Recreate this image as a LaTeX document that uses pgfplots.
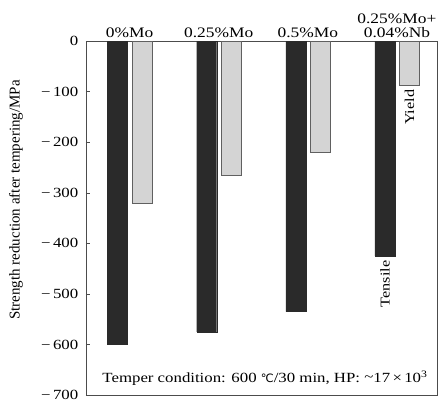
\documentclass[border=0pt]{standalone}
\usepackage{fontspec}
\setmainfont{Liberation Serif}[FakeStretch=1.2]
\newfontfamily\plainserif{Liberation Serif}
\newfontfamily\symfont{DejaVu Sans}
\usepackage{pgfplots}
\pgfplotsset{compat=1.18}
\definecolor{darkbar}{HTML}{2A2A2A}
\definecolor{lightbar}{HTML}{D4D4D4}
\newcommand{\tl}[1]{\mbox{\fontsize{14}{15}\selectfont #1}}
\newcommand{\mn}{−\kern2.5pt}
\begin{document}
\fontsize{13.5}{15}\selectfont
\begin{tikzpicture}
\begin{axis}[
  width=351pt, height=354pt, scale only axis,
  xmin=-0.49, xmax=3.45, ymin=-700, ymax=0,
  ybar, bar width=20pt,
  xtick={0,1,2,3},
  xticklabels={0\%Mo,0.25\%Mo,0.5\%Mo,{0.25\%Mo+\\0.04\%Nb}},
  xticklabel pos=top,
  xticklabel style={align=center, font=\fontsize{14.5}{13.8}\selectfont, yshift=-1pt},
  x tick style={draw=none},
  ytick={-700,-600,-500,-400,-300,-200,-100,0},
  yticklabels={\tl{\mn700},\tl{\mn600},\tl{\mn500},\tl{\mn400},\tl{\mn300},\tl{\mn200},\tl{\mn100},\tl{0}},
  yticklabel style={xshift=-3pt},
  ytick pos=left, tick align=inside,
  y tick style={gray!60!black},
  axis line style={gray!60!black},
  clip=false,
]
\addplot[fill=darkbar, draw=darkbar, bar shift=-12pt] coordinates {(0,-600) (1,-575) (2,-535) (3,-425)};
\addplot[fill=lightbar, draw=gray!75!black, bar shift=12.5pt] coordinates {(0,-320) (1,-265) (2,-220) (3,-88)};
\node[rotate=90, anchor=east, inner sep=2pt] at ([xshift=-12pt]axis cs:3,-430) {Tensile};
\node[rotate=90, anchor=east, inner sep=2pt] at ([xshift=12.5pt]axis cs:3,-92) {Yield};
\node[anchor=center] at ([yshift=17pt]rel axis cs:0.51,0) {\fontsize{14}{15}\selectfont Temper condition: 600 {\symfont\fontsize{11.5}{12}\selectfont ℃}/30 min, HP: \raisebox{0.15ex}{\textasciitilde}17\,×\,10\textsuperscript{3}};
\node[rotate=90, anchor=center, font=\plainserif\fontsize{15}{16}\selectfont] at ([xshift=-70pt, yshift=18pt]rel axis cs:0,0.5) {Strength reduction after tempering/MPa};
\end{axis}
\pgfresetboundingbox
\useasboundingbox (-86pt,-10pt) rectangle (354pt,395pt);
\end{tikzpicture}
\end{document}
